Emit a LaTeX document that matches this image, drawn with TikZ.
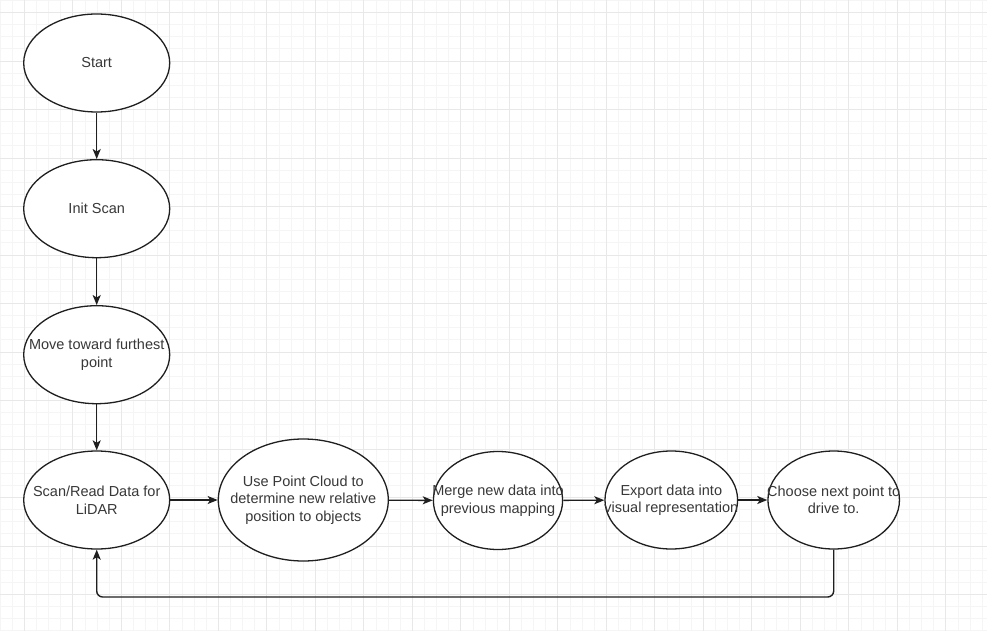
\documentclass[tikz,border=0pt]{standalone}
\usepackage{fontspec}
\setmainfont{Liberation Sans}
\usetikzlibrary{arrows.meta}
\usetikzlibrary{shapes.geometric,positioning}

\begin{document}
\begin{tikzpicture}[x=1pt,y=-1pt,
    minorline/.style={draw=black!4,line width=0.8pt},
    majorline/.style={draw=black!9,line width=0.9pt},
    stepnode/.style={ellipse,draw=black!88,line width=1.3pt,fill=white,
      inner xsep=-20pt,inner ysep=-20pt,
      align=center,text=black!78,font=\fontsize{14.5}{17.5}\selectfont,
      minimum width=146pt,minimum height=98pt},
    flow/.style={draw=black!88,line width=1.4pt,-{Stealth[length=10pt,width=8pt,inset=2.5pt]}}]
      % Background grid
      \useasboundingbox (0,0) rectangle (987,631);
      \fill[white] (0,0) rectangle (987,631);
      \foreach \k in {-2,...,79}
        \draw[minorline] ({24.3+12.125*\k},0) -- ++(0,631);
      \foreach \k in {-1,...,51}
        \draw[minorline] (0,{12.5+12.125*\k}) -- ++(987,0);
      \foreach \k in {0,...,20}
        \draw[majorline] ({24.3+48.5*\k},0) -- ++(0,631);
      \foreach \k in {0,...,13}
        \draw[majorline] (0,{12.5+48.5*\k}) -- ++(987,0);

      % Left column
      \node[stepnode] (start) at (96.7,63) {Start};
      \node[stepnode] (init) at (96.7,208.7) {Init Scan};
      \node[stepnode] (move) at (96.7,354.7) {Move toward furthest\\point};
      \node[stepnode] (scan) at (96.7,500) {Scan/Read Data for\\LiDAR};

      % Bottom row
      \node[stepnode,minimum width=170pt,minimum height=122pt] (cloud) at (303.3,500)
        {Use Point Cloud to\\determine new relative\\position to objects};
      \node[stepnode,minimum width=129pt] (merge) at (498,500.5) {Merge new data into\\previous mapping};
      \node[stepnode,minimum width=129pt] (export) at (671.3,500) {Export data into\\visual representation};
      \node[stepnode,minimum width=130.5pt] (choose) at (833.7,500) {Choose next point to\\drive to.};

      % Connectors
      \draw[flow] (start) -- (init);
      \draw[flow] (init) -- (move);
      \draw[flow] (move) -- (scan);
      \draw[flow] (scan) -- (cloud);
      \draw[flow] (cloud) -- (merge);
      \draw[flow] (merge) -- (export);
      \draw[flow] (export) -- (choose);

      % Loop back
      \coordinate (back) at (96.7,597);
      \draw[flow,rounded corners=6pt] (choose.south) |- (back) -- (scan.south);
    \end{tikzpicture}
\end{document}
